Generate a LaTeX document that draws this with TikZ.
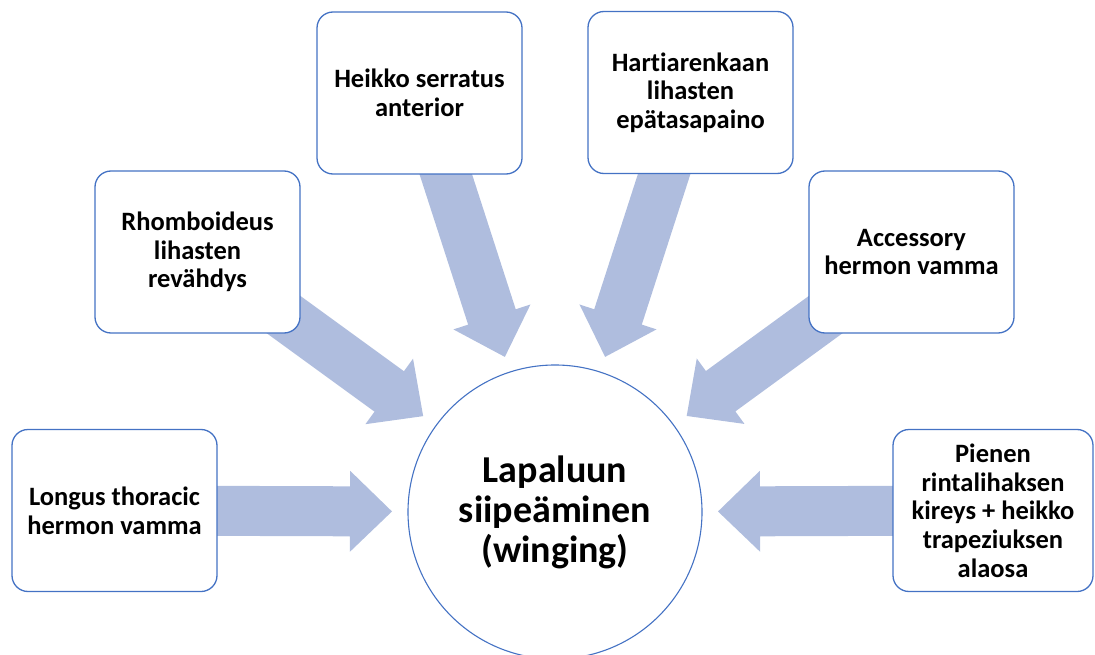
\documentclass[tikz,border=0pt]{standalone}
\usepackage{fontspec}
\setmainfont{Carlito}[Ligatures=NoCommon]
\usetikzlibrary{calc,backgrounds}
\definecolor{boxblue}{RGB}{68,114,196}
\definecolor{arrowfill}{RGB}{175,189,222}
\newcommand\radarrow[1]{%
  \coordinate (T) at ($(c.center)!163pt!(#1.center)$);
  \coordinate (H) at ($(c.center)!205pt!(#1.center)$);
  \fill[blk] ($(#1.center)!25pt!90:(T)$) -- ($(H)!25pt!90:(T)$) -- ($(H)!40.5pt!90:(T)$)
     -- (T) -- ($(H)!40.5pt!-90:(T)$) -- ($(H)!25pt!-90:(T)$) -- ($(#1.center)!25pt!-90:(T)$) -- cycle;
}
\begin{document}
\begin{tikzpicture}[x=1pt,y=-1pt,
  box/.style={draw=boxblue, line width=1.3pt, fill=white, rounded corners=16pt,
    minimum width=205pt, minimum height=162pt, align=center, inner sep=0pt,
    font=\fontsize{26.5}{28.7}\selectfont\bfseries},
  hub/.style={circle, draw=boxblue, line width=1.1pt, fill=white, minimum size=294pt,
    inner sep=0pt, align=center, font=\fontsize{38}{40}\selectfont\bfseries},
  blk/.style={fill=arrowfill}]
\useasboundingbox (0,0) rectangle (1095,655);
\node[hub] (c) at (555,512) {Lapaluun\\siipeäminen\\(winging)};
\node[box] (b1) at (114.5,510.5) {Longus thoracic\\hermon vamma};
\node[box] (b2) at (197.5,252) {Rhomboideus\\lihasten\\revähdys};
\node[box] (b3) at (419.5,93) {Heikko serratus\\anterior};
\node[box] (b4) at (690.5,92.5) {Hartiarenkaan\\lihasten\\epätasapaino};
\node[box] (b5) at (911.5,252) {Accessory\\hermon vamma};
\node[box, minimum width=200pt] (b6) at (993,510.5) {Pienen\\rintalihaksen\\kireys + heikko\\trapeziuksen\\alaosa};
\begin{scope}[on background layer]
  \radarrow{b1}
  \radarrow{b2}
  \radarrow{b3}
  \radarrow{b4}
  \radarrow{b5}
  \radarrow{b6}
\end{scope}
\end{tikzpicture}
\end{document}
